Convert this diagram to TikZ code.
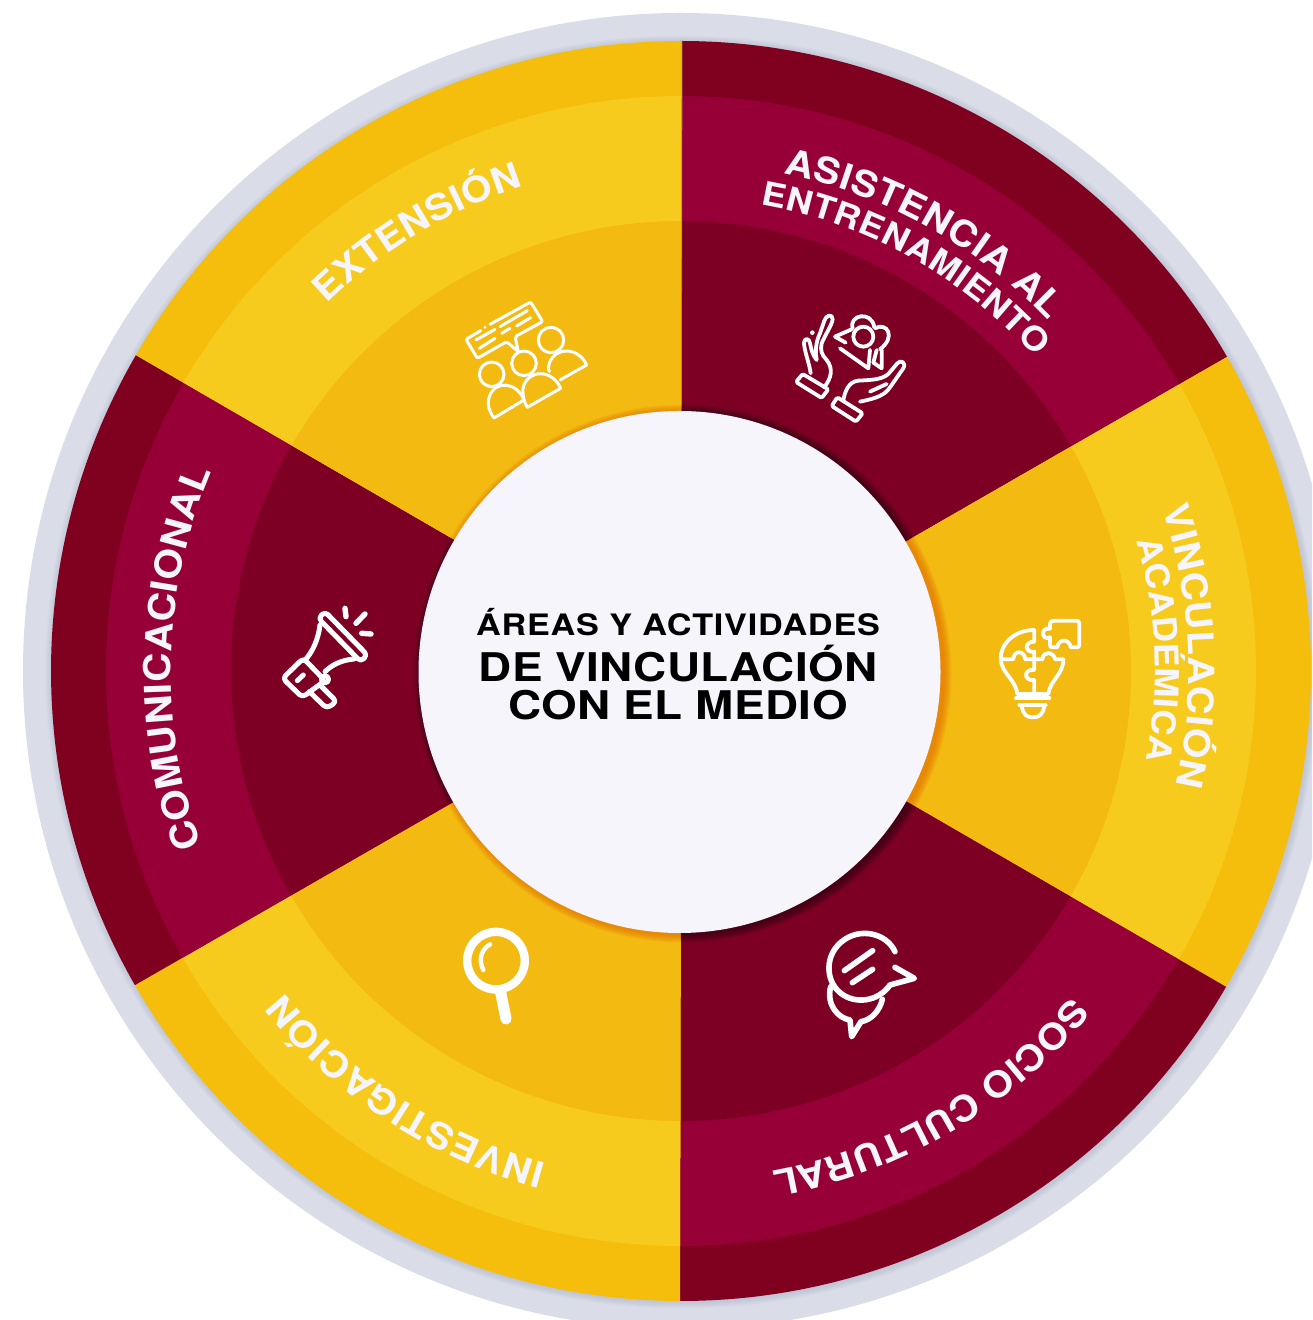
\documentclass[tikz,border=0pt]{standalone}
\usepackage{fontspec}
\usetikzlibrary{decorations.text}
\newfontface\fontA[FakeStretch=1.16,LetterSpace=2.7]{TeX Gyre Heros Bold}
\newfontface\fontB[FakeStretch=1.16,LetterSpace=1]{TeX Gyre Heros Bold}
\newfontface\fontC[FakeStretch=1.1]{TeX Gyre Heros Bold}
\definecolor{ringgray}{HTML}{DADDE8}
\definecolor{shadegray}{HTML}{8088A8}
\definecolor{redouter}{HTML}{80001F}
\definecolor{redmid}{HTML}{960036}
\definecolor{redinner}{HTML}{7D0024}
\definecolor{yelouter}{HTML}{F5BE0C}
\definecolor{yelmid}{HTML}{F7CB1E}
\definecolor{yelinner}{HTML}{F3BA11}
\definecolor{paper}{HTML}{F5F5FB}
\definecolor{seam}{HTML}{A08A70}
\definecolor{shadowdark}{HTML}{200010}
\definecolor{shadoworange}{HTML}{E06000}
\tikzset{
  ico/.style={draw=white, line width=3.8pt, line cap=round, line join=round},
  iconframe/.style={x=0.3333pt,y=-0.3333pt},
  titleline/.style={anchor=base,text=black,inner sep=0pt}
}
\newcommand\sector[5]{%
  \fill[#3] (0,0) -- (#1:630) arc[start angle=#1,end angle=#2,radius=630] -- cycle;
  \fill[#4] (0,0) -- (#1:575) arc[start angle=#1,end angle=#2,radius=575] -- cycle;
  \fill[#5] (0,0) -- (#1:450) arc[start angle=#1,end angle=#2,radius=450] -- cycle;
}
\newcommand\shadowsector[4]{%
  \begin{scope}
    \clip (0,0) -- (#1:400) -- (#3:500) -- (#2:400) -- cycle;
    \foreach \r in {262,263,...,269}{\fill[#4,opacity=.09] (1.5,-2.5) circle[radius=\r];}
  \end{scope}
}
\newcommand\arctext[5]{%
  \path[decorate,decoration={text along path,text={|\fontsize{#4}{#4}\selectfont\fontC\color{paper}|#5},text align={fit to path}}]
    (#2:#1) arc[start angle=#2,end angle=#3,radius=#1];
}
\begin{document}
\begin{tikzpicture}[x=1pt,y=1pt]
\useasboundingbox (0,0) rectangle (1312,1320);
\fill[white] (0,0) rectangle (1312,1320);
\clip (0,0) rectangle (1312,1320);
\begin{scope}[shift={(681,649)}]
  \fill[ringgray] (0,0) circle[radius=658];
  \foreach \r in {630.5,631.5,...,637}{\fill[shadegray,opacity=.04] (1,-1) circle[radius=\r];}
  \sector{29.91}{89.91}{redouter}{redmid}{redinner}
  \sector{-30.09}{29.91}{yelouter}{yelmid}{yelinner}
  \sector{-90.09}{-30.09}{redouter}{redmid}{redinner}
  \sector{-150.09}{-90.09}{yelouter}{yelmid}{yelinner}
  \sector{-210.09}{-150.09}{redouter}{redmid}{redinner}
  \sector{89.91}{149.91}{yelouter}{yelmid}{yelinner}
  \draw[seam,line width=.8pt] (89.91:630) -- (89.91:250);
  \shadowsector{29.91}{89.91}{60}{shadowdark}
  \shadowsector{-30.09}{29.91}{0}{shadoworange}
  \shadowsector{-90.09}{-30.09}{-60}{shadowdark}
  \shadowsector{-150.09}{-90.09}{-120}{shadoworange}
  \shadowsector{-210.09}{-150.09}{-180}{shadowdark}
  \shadowsector{89.91}{149.91}{120}{shadoworange}
  \fill[paper] (-1.5,-1) circle[radius=261];
  \arctext{510}{134}{108}{36}{EXTENSIÓN}
  \arctext{508}{78.4}{43.6}{36}{ASISTENCIA AL}
  \arctext{473}{80.3}{41.5}{33}{ENTRENAMIENTO}
  \arctext{508}{18.6}{-13}{36}{VINCULACIÓN}
  \arctext{474}{16}{-10.5}{33}{ACADÉMICA}
  \arctext{508}{-39.8}{-79.7}{36}{SOCIO CULTURAL}
  \arctext{511}{-105.3}{-141}{36}{INVESTIGACIÓN}
  \arctext{510}{-160}{-203}{37}{COMUNICACIONAL}
\end{scope}
\node[titleline] (title1) at (678,684) {\fontsize{29.5}{29.5}\selectfont\fontA ÁREAS Y ACTIVIDADES};
\node[titleline] (title2) at (678,638) {\fontsize{39.5}{39.5}\selectfont\fontB DE VINCULACIÓN};
\node[titleline] (title3) at (678,600) {\fontsize{39.5}{39.5}\selectfont\fontB CON EL MEDIO};
% hands and flower
\begin{scope}[shift={(780,1020)},iconframe]
  \draw[ico,rounded corners=1.5pt] (68,222) -- (145,268) -- (125,294) -- (48,246) -- cycle;
  \draw[ico,rounded corners=1.5pt] (172,292) -- (248,340) -- (228,365) -- (155,318) -- cycle;
  \draw[ico] (92,220) .. controls (88,190) and (72,150) .. (72,128) .. controls (74,112) and (88,115) .. (90,130) .. controls (94,150) and (98,165) .. (110,180) .. controls (105,150) and (108,125) .. (120,100) -- (133,62) .. controls (138,45) and (158,40) .. (158,58) .. controls (156,75) and (135,105) .. (125,130) .. controls (120,150) and (125,165) .. (140,180) .. controls (160,205) and (155,235) .. (132,262);
  \fill[white] (97,98) circle[radius=2.3pt];
  \draw[ico] (190,300) .. controls (195,275) and (205,245) .. (235,242) .. controls (270,240) and (305,240) .. (325,222) -- (352,190) .. controls (362,178) and (380,188) .. (370,205) -- (330,262) .. controls (315,285) and (290,295) .. (240,305);
  \draw[ico] (270,275) -- (320,252);
  \draw[ico] (250,110) circle[radius=10pt];
  \draw[ico] (218,85) .. controls (205,45) and (275,30) .. (283,82);
  \draw[ico] (285,85) .. controls (320,65) and (350,110) .. (300,148);
  \draw[ico] (215,88) -- (165,110) -- (197,128);
  \draw[ico] (180,145) -- (265,205) -- (270,150);
  \draw[ico] (290,150) -- (280,188) -- (305,205) -- (305,150);
\end{scope}
% people and speech bubble
\begin{scope}[shift={(450,1030)},iconframe,ico/.append style={line width=3pt}]
  \draw[ico,rounded corners=2pt] (92,122) -- (48,148) -- (82,205) -- (170,155) -- (205,185) -- (195,140) -- (278,95) -- (242,36) -- (120,103);
  \fill[white] (105,112) circle[radius=1.6pt];
  \draw[ico] (78,150) -- (135,118) (150,110) -- (232,62) (88,175) -- (135,145) (155,130) -- (180,115) (200,108) -- (242,83);
  \draw[ico] (125,253) circle[radius=12.3pt] (222,220) circle[radius=12.3pt] (303,150) circle[radius=12.7pt];
  \draw[ico] (132,384) -- (222,330) .. controls (200,275) and (135,270) .. (118,320) .. controls (110,345) and (118,365) .. cycle;
  \draw[ico] (232,352) -- (332,295) .. controls (305,235) and (235,240) .. (220,290) .. controls (215,315) and (222,335) .. cycle;
  \draw[ico] (330,270) -- (410,225) .. controls (385,170) and (315,170) .. (298,220) .. controls (294,235) and (296,240) .. (298,245);
\end{scope}
% light bulb and puzzle piece
\begin{scope}[shift={(980,720)},iconframe]
  \draw[ico] (222,62) -- (290,62) .. controls (295,62) and (298,65) .. (298,70) -- (298,135) .. controls (298,140) and (295,142) .. (290,142) -- (272,142) .. controls (268,115) and (235,115) .. (232,142) -- (218,142) .. controls (212,142) and (210,140) .. (210,135) -- (210,112) .. controls (185,125) and (180,80) .. (210,86) -- (210,72) .. controls (210,65) and (214,62) .. (222,62) -- cycle;
  \draw[ico] (163,90) .. controls (100,90) and (60,135) .. (62,178) .. controls (65,220) and (108,240) .. (112,282) -- (205,282) .. controls (210,240) and (250,225) .. (250,178);
  \draw[ico] (62,178) -- (100,178) .. controls (100,150) and (135,150) .. (135,178) -- (187,178) .. controls (190,150) and (222,155) .. (225,178) -- (250,178);
  \draw[ico] (163,90) -- (163,125) .. controls (130,125) and (135,160) .. (163,155) -- (163,210) .. controls (130,205) and (130,245) .. (163,240) -- (163,282);
  \draw[ico] (108,295) -- (208,295);
  \draw[ico] (118,315) -- (197,315);
  \draw[ico] (125,318) .. controls (130,345) and (140,352) .. (158,352) .. controls (178,352) and (188,345) .. (193,318);
\end{scope}
% chat bubbles
\begin{scope}[shift={(800,410)},iconframe,ico/.append style={line width=5.6pt}]
  \draw[ico] (285,125) .. controls (260,70) and (180,50) .. (125,95) .. controls (75,135) and (75,210) .. (120,248) .. controls (165,285) and (235,275) .. (270,225) -- (343,205) -- (285,172);
  \draw[ico] (133,182) -- (218,122) (157,218) -- (218,178);
  \draw[ico] (92,230) .. controls (78,285) and (115,325) .. (150,330) -- (155,380) -- (183,335) .. controls (215,330) and (240,300) .. (247,268);
\end{scope}
% megaphone
\begin{scope}[shift={(270,730)},iconframe,ico/.append style={line width=5pt}]
  \draw[ico,rounded corners=4pt] (145,85) -- (165,65) -- (292,195) -- (272,215) -- cycle;
  \draw[ico] (150,105) .. controls (145,150) and (125,190) .. (105,210);
  \draw[ico] (252,207) .. controls (215,210) and (185,225) .. (165,245);
  \draw[ico,rounded corners=4pt] (100,205) -- (165,272) -- (97,322) -- (38,265) -- cycle;
  \draw[ico] (82,272) -- (100,255);
  \draw[ico,rounded corners=4pt] (118,305) -- (170,355) -- (200,335) -- (150,285);
  \draw[ico] (165,268) circle[radius=3.5pt];
  \draw[ico,line width=5.4pt] (225,55) -- (228,80) (285,72) -- (258,100) (275,130) -- (303,132);
\end{scope}
% magnifier
\begin{scope}[shift={(450,405)},iconframe]
  \draw[ico,line width=8.4pt] (138,137) circle[radius=28.8pt];
  \draw[ico,line width=4.4pt] (120,88) .. controls (92,105) and (85,135) .. (100,165);
  \draw[ico,line width=11pt] (152,232) -- (168,312);
\end{scope}
\end{tikzpicture}
\end{document}
